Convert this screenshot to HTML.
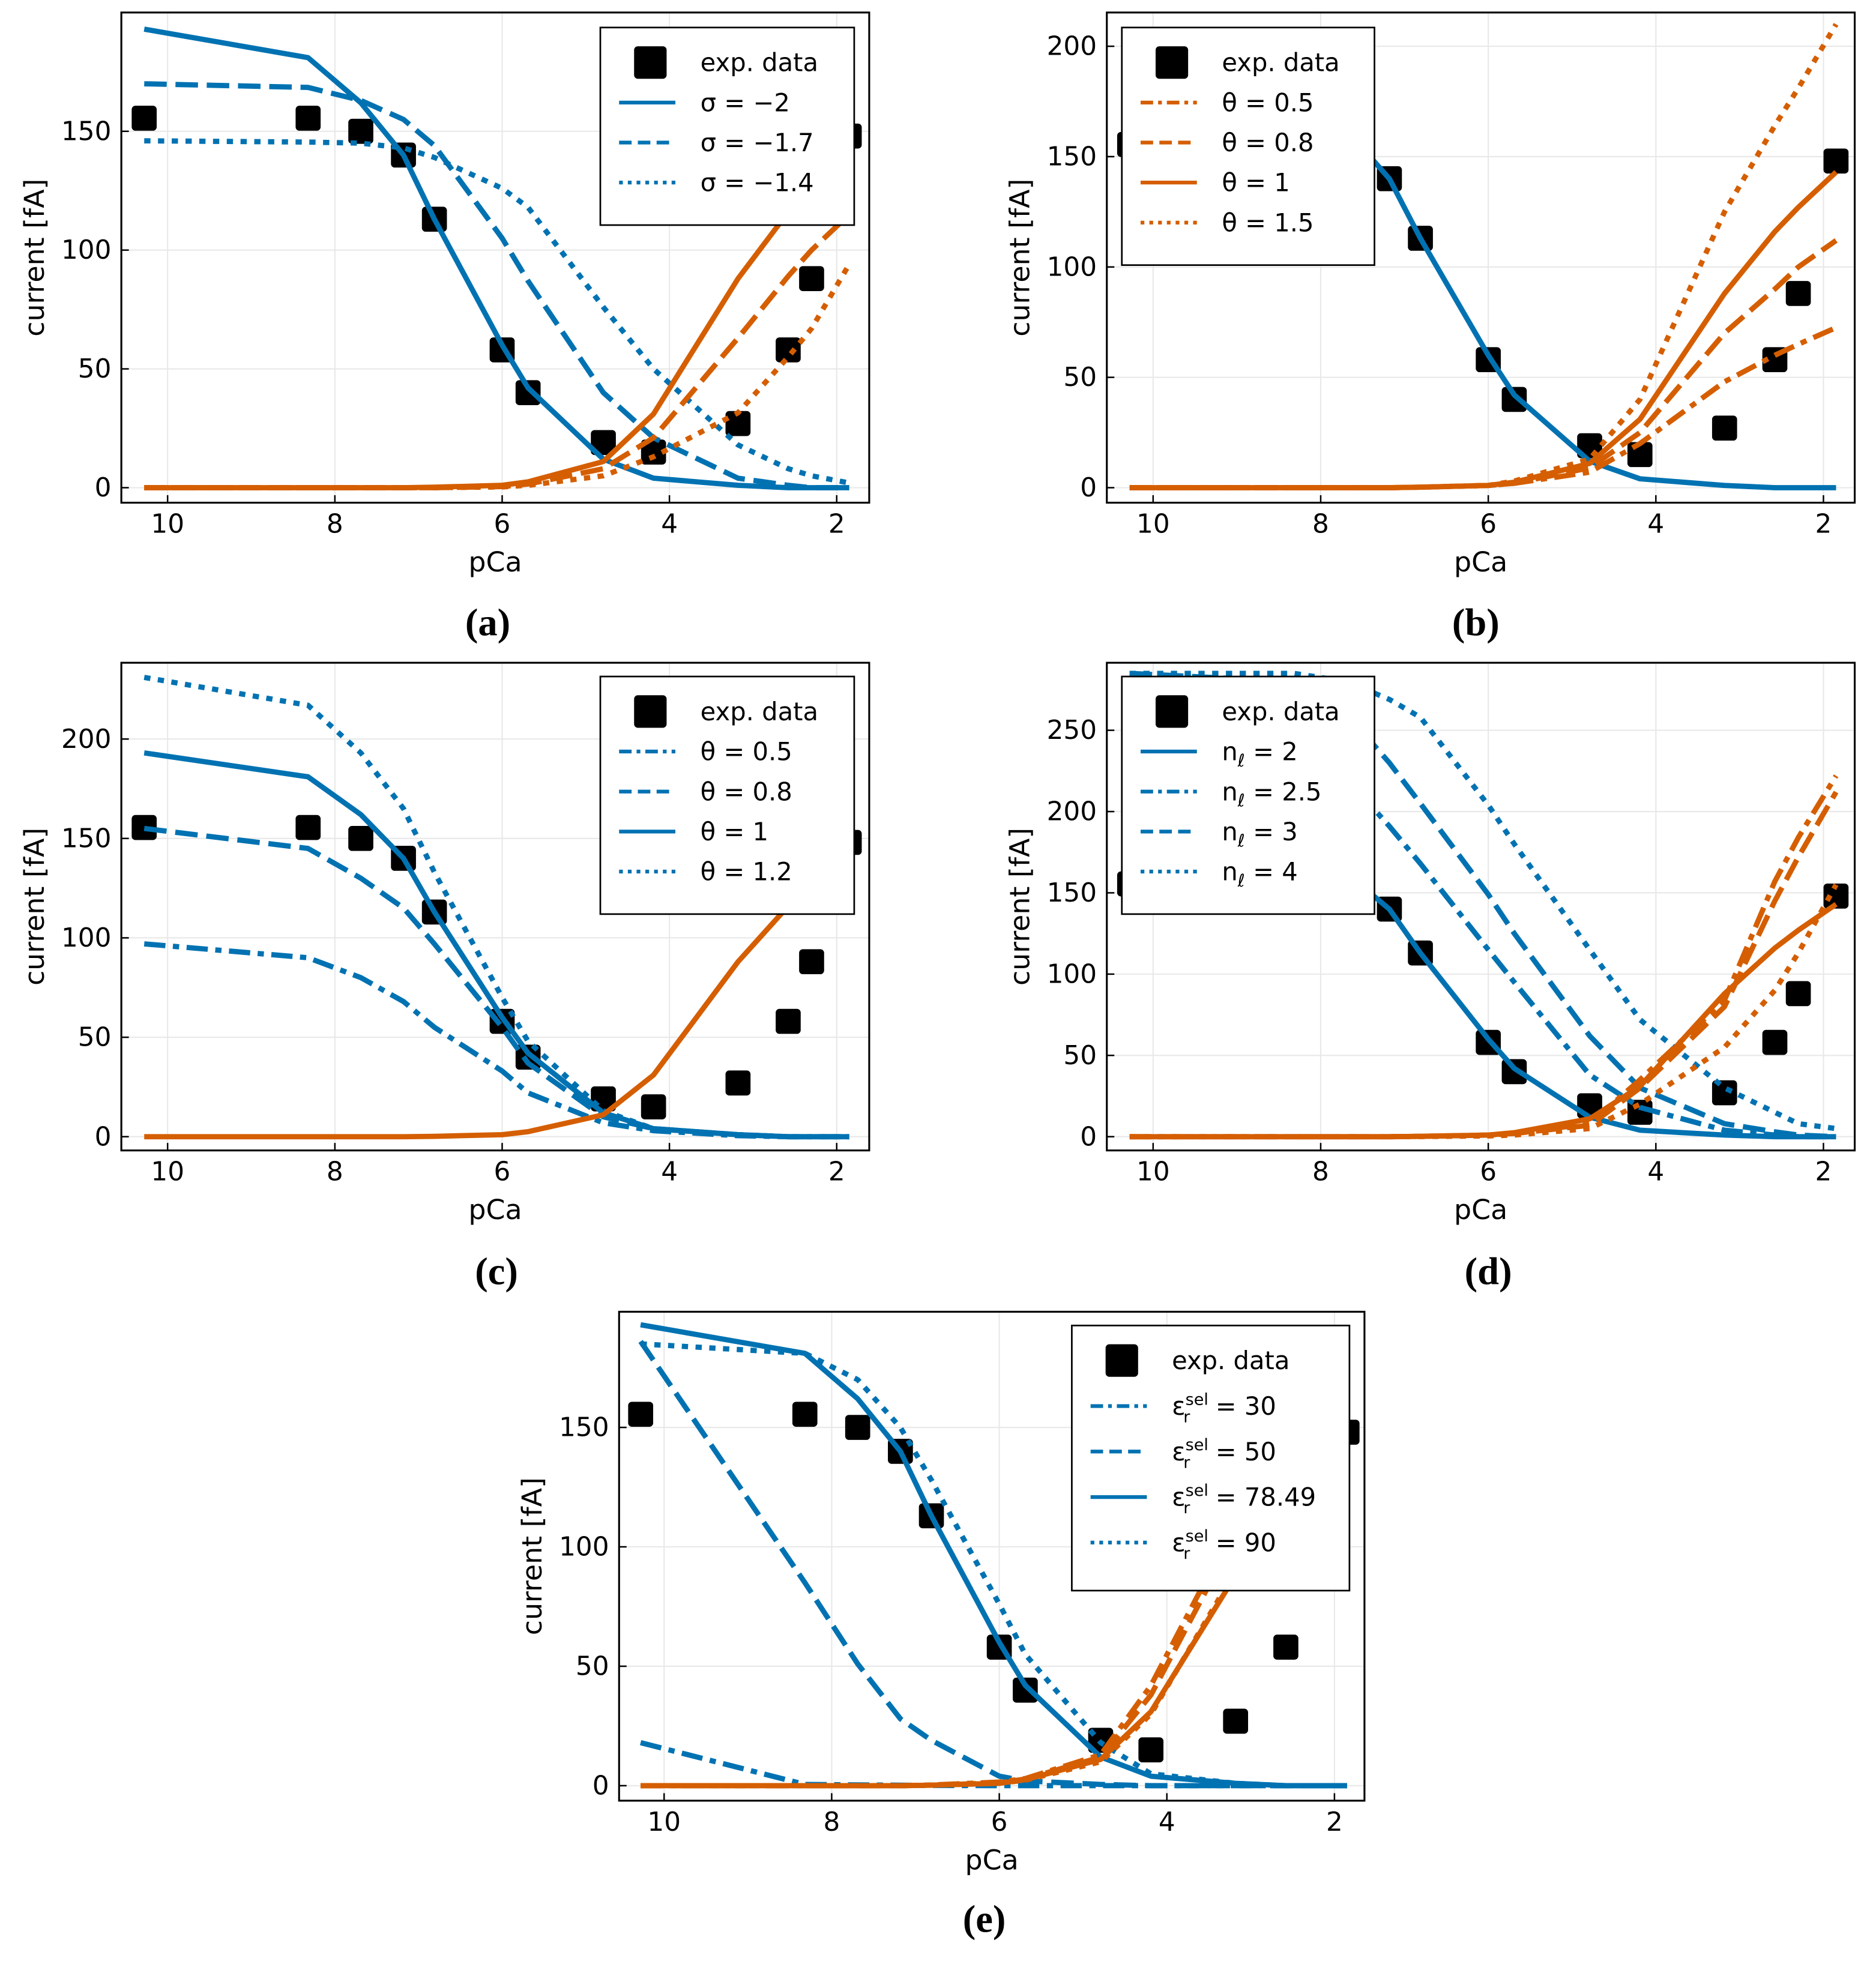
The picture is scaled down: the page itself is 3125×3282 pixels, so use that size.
<!DOCTYPE html>
<html><head><meta charset="utf-8">
<style>
html,body{margin:0;padding:0;background:#fff;}
svg{display:block;}
text{font-family:"DejaVu Sans","Liberation Sans",sans-serif;}
.cap{font-family:"Liberation Serif",serif;font-weight:bold;font-size:31px;}
</style></head>
<body>
<svg id="chart" xmlns="http://www.w3.org/2000/svg" width="3125" height="3282" viewBox="0 0 1500 1575.4">
<rect x="0" y="0" width="1500" height="1575.4" fill="#fff"/>
</svg>
<script>
const pCa = [10.28, 8.32, 7.69, 7.18, 6.81, 6.0, 5.69, 4.79, 4.19, 3.18, 2.58, 2.30, 1.85];
const expData = [155.5, 155.5, 150, 140, 113, 58, 40, 19, 15, 27, 58, 88, 148];
const xTicks = [10, 8, 6, 4, 2];

const blueBase = [193, 181, 162, 140, 113, 60, 42, 12, 4, 1, 0, 0, 0];
const orangeBase = [0, 0, 0, 0, 0.2, 1, 2.5, 11, 31, 88, 116, 127, 143];

const aBlueM17 = [170, 168.5, 163, 155, 144, 105, 87, 40, 21, 4, 1, 0, 0];
const aBlueM14 = [146, 145.5, 145, 143, 139, 126, 118, 76, 50, 18, 8, 5, 2];
const aOrangeM17 = [0, 0, 0, 0, 0, 0.5, 1.5, 8, 21, 63, 89, 100, 115];
const aOrangeM14 = [0, 0, 0, 0, 0, 0.3, 1, 5, 13, 31.5, 55, 67, 94];

const bOrange05 = [0, 0, 0, 0, 0.2, 1, 2, 7, 20, 48, 60, 65, 72.5];
const bOrange08 = [0, 0, 0, 0, 0.2, 1, 2, 9, 25, 70, 90, 100, 112];
const bOrange15 = [0, 0, 0, 0, 0.2, 1, 3, 13, 40, 125, 164, 181, 210];

const cBlue05 = [97, 90, 80, 68, 55, 33, 22, 7, 3, 0.5, 0, 0, 0];
const cBlue08 = [155, 145, 130, 115, 97, 55, 37, 10, 4, 1, 0, 0, 0];
const cBlue12 = [231, 217, 193, 165, 133, 70, 48, 13, 4, 1, 0, 0, 0];

const dBlue25 = [265, 250, 220, 191, 168, 115, 95, 38, 18, 4, 1, 0, 0];
const dBlue3 = [285, 280, 260, 230, 205, 149, 125, 62, 30, 8, 3, 1, 0];
const dBlue4 = [285, 285, 280, 269, 258, 204, 180, 115, 72, 30, 15, 8, 5];
const dOrange25 = [0, 0, 0, 0, 0.2, 1, 2, 8, 35, 84, 157, 184, 222];
const dOrange3 = [0, 0, 0, 0, 0.2, 1, 2, 7, 30, 80, 145, 172, 212];
const dOrange4 = [0, 0, 0, 0, 0.1, 0.5, 1, 5, 20, 55, 90, 113, 155];

const eBlue30 = [18, 0.5, 0.3, 0.2, 0.1, 0, 0, 0, 0, 0, 0, 0, 0];
const eBlue50 = [186, 85, 51, 28, 19, 4, 2, 0.5, 0, 0, 0, 0, 0];
const eBlue90 = [185, 181, 170, 150, 128, 76, 55, 18, 5, 1, 0, 0, 0];
const eOrange30 = [0, 0, 0, 0, 0.3, 1.5, 3, 13, 42, 110, 150, 165, 185];
const eOrange50 = [0, 0, 0, 0, 0.2, 1.2, 2.8, 12, 38, 105, 145, 160, 180];
const eOrange90 = [0, 0, 0, 0, 0.2, 1, 2.3, 10, 30, 90, 120, 130, 145];

const BLUE = '#0072b2', ORANGE = '#d55e00';
const DASH = {solid: null, dashed: '18,7', dotted: '5,6', dashdot: '17,6,5,6'};
const NS = 'http://www.w3.org/2000/svg';
const svg = document.getElementById('chart');

function mk(tag, attrs, parent) {
  const e = document.createElementNS(NS, tag);
  for (const k in attrs) e.setAttribute(k, attrs[k]);
  (parent || svg).appendChild(e);
  return e;
}

const panels = [
  {id: 'a', L: 97, R: 695, T: 10, B: 402, x10: 134, x2: 669, y0: 390, k: 1.9, yTicks: [0, 50, 100, 150],
   cap: '(a)', capX: 390, capY: 508,
   series: [
     {v: blueBase, c: BLUE, d: 'solid'}, {v: aBlueM17, c: BLUE, d: 'dashed'}, {v: aBlueM14, c: BLUE, d: 'dotted'},
     {v: orangeBase, c: ORANGE, d: 'solid'}, {v: aOrangeM17, c: ORANGE, d: 'dashed'}, {v: aOrangeM14, c: ORANGE, d: 'dotted'}],
   leg: {x: 480, y: 22, w: 203, h: 158, rows: [[BLUE, 'solid', 'σ = −2'], [BLUE, 'dashed', 'σ = −1.7'], [BLUE, 'dotted', 'σ = −1.4']]}},
  {id: 'b', L: 885, R: 1483, T: 10, B: 402, x10: 922, x2: 1458, y0: 390, k: 1.765, yTicks: [0, 50, 100, 150, 200],
   cap: '(b)', capX: 1180, capY: 508,
   series: [
     {v: blueBase, c: BLUE, d: 'solid'},
     {v: bOrange05, c: ORANGE, d: 'dashdot'}, {v: bOrange08, c: ORANGE, d: 'dashed'}, {v: orangeBase, c: ORANGE, d: 'solid'}, {v: bOrange15, c: ORANGE, d: 'dotted'}],
   leg: {x: 897, y: 22, w: 202, h: 190, rows: [[ORANGE, 'dashdot', 'θ = 0.5'], [ORANGE, 'dashed', 'θ = 0.8'], [ORANGE, 'solid', 'θ = 1'], [ORANGE, 'dotted', 'θ = 1.5']]}},
  {id: 'c', L: 97, R: 695, T: 530, B: 920, x10: 134, x2: 669, y0: 909, k: 1.59, yTicks: [0, 50, 100, 150, 200],
   cap: '(c)', capX: 397, capY: 1027,
   series: [
     {v: cBlue05, c: BLUE, d: 'dashdot'}, {v: cBlue08, c: BLUE, d: 'dashed'}, {v: blueBase, c: BLUE, d: 'solid'}, {v: cBlue12, c: BLUE, d: 'dotted'},
     {v: orangeBase, c: ORANGE, d: 'solid'}],
   leg: {x: 480, y: 541, w: 203, h: 190, rows: [[BLUE, 'dashdot', 'θ = 0.5'], [BLUE, 'dashed', 'θ = 0.8'], [BLUE, 'solid', 'θ = 1'], [BLUE, 'dotted', 'θ = 1.2']]}},
  {id: 'd', L: 885, R: 1483, T: 530, B: 920, x10: 922, x2: 1458, y0: 909, k: 1.3, yTicks: [0, 50, 100, 150, 200, 250],
   cap: '(d)', capX: 1190, capY: 1027,
   series: [
     {v: blueBase, c: BLUE, d: 'solid'}, {v: dBlue25, c: BLUE, d: 'dashdot'}, {v: dBlue3, c: BLUE, d: 'dashed'}, {v: dBlue4, c: BLUE, d: 'dotted'},
     {v: orangeBase, c: ORANGE, d: 'solid'}, {v: dOrange25, c: ORANGE, d: 'dashdot'}, {v: dOrange3, c: ORANGE, d: 'dashed'}, {v: dOrange4, c: ORANGE, d: 'dotted'}],
   leg: {x: 897, y: 541, w: 202, h: 190, rows: [[BLUE, 'solid', 'n_ℓ = 2'], [BLUE, 'dashdot', 'n_ℓ = 2.5'], [BLUE, 'dashed', 'n_ℓ = 3'], [BLUE, 'dotted', 'n_ℓ = 4']]}},
  {id: 'e', L: 495, R: 1091, T: 1049, B: 1440, x10: 531, x2: 1067, y0: 1428, k: 1.91, yTicks: [0, 50, 100, 150],
   cap: '(e)', capX: 787, capY: 1545,
   series: [
     {v: eBlue30, c: BLUE, d: 'dashdot'}, {v: eBlue50, c: BLUE, d: 'dashed'}, {v: blueBase, c: BLUE, d: 'solid'}, {v: eBlue90, c: BLUE, d: 'dotted'},
     {v: eOrange30, c: ORANGE, d: 'dashdot'}, {v: eOrange50, c: ORANGE, d: 'dashed'}, {v: orangeBase, c: ORANGE, d: 'solid'}, {v: eOrange90, c: ORANGE, d: 'dotted'}],
   leg: {x: 857, y: 1060, w: 222, h: 212, rows: [[BLUE, 'dashdot', 'eps:30'], [BLUE, 'dashed', 'eps:50'], [BLUE, 'solid', 'eps:78.49'], [BLUE, 'dotted', 'eps:90']]}}
];

panels.forEach(P => {
  const g = mk('g', {});
  
  
  const xs = p => P.x10 + (10 - p) * (P.x2 - P.x10) / 8;
  const ys = v => P.y0 - v * P.k;
  const clipId = 'clip-' + P.id;
  const cp = mk('clipPath', {id: clipId}, g);
  mk('rect', {x: P.L, y: P.T, width: P.R - P.L, height: P.B - P.T}, cp);

  // grid
  xTicks.forEach(t => {
    const l = mk('line', {x1: xs(t), x2: xs(t), y1: P.T, y2: P.B, stroke: '#e8e8e8', 'stroke-width': 1}, g);
    
    
  });
  P.yTicks.forEach(t => {
    const l = mk('line', {x1: P.L, x2: P.R, y1: ys(t), y2: ys(t), stroke: '#e8e8e8', 'stroke-width': 1}, g);
    
    
  });

  const plot = mk('g', {'clip-path': 'url(#' + clipId + ')'}, g);
  
  
  // markers
  pCa.forEach((p, i) => {
    const m = mk('rect', {x: xs(p) - 10, y: ys(expData[i]) - 10, width: 20, height: 20, rx: 3, fill: '#000'}, plot);
    
    
  });
  // lines
  P.series.forEach(s => {
    const pts = pCa.map((p, i) => xs(p).toFixed(1) + ',' + ys(s.v[i]).toFixed(1)).join(' ');
    const a = {points: pts, fill: 'none', stroke: s.c, 'stroke-width': 4.2, 'stroke-linejoin': 'round'};
    if (DASH[s.d]) a['stroke-dasharray'] = DASH[s.d];
    const pl = mk('polyline', a, plot);
    
    
  });

  // frame
  const fr = mk('rect', {x: P.L, y: P.T, width: P.R - P.L, height: P.B - P.T, fill: 'none', stroke: '#000', 'stroke-width': 1.5}, g);
  
  

  // ticks
  xTicks.forEach(t => {
    mk('line', {x1: xs(t), x2: xs(t), y1: P.B, y2: P.B - 6, stroke: '#000', 'stroke-width': 1.2}, g);
    const tx = mk('text', {x: xs(t), y: P.B + 24, 'font-size': 21, 'text-anchor': 'middle'}, g);
    tx.textContent = t;
    
    
  });
  P.yTicks.forEach(t => {
    mk('line', {x1: P.L, x2: P.L + 6, y1: ys(t), y2: ys(t), stroke: '#000', 'stroke-width': 1.2}, g);
    const tx = mk('text', {x: P.L - 8, y: ys(t) + 7, 'font-size': 21, 'text-anchor': 'end'}, g);
    tx.textContent = t;
    
    
  });
  const xl = mk('text', {x: (P.L + P.R) / 2, y: P.B + 55, 'font-size': 22, 'text-anchor': 'middle'}, g);
  xl.textContent = 'pCa';
  
  
  const cy = (P.T + P.B) / 2;
  const yl = mk('text', {x: P.L - 62, y: cy, 'font-size': 22, 'text-anchor': 'middle', transform: 'rotate(-90 ' + (P.L - 62) + ' ' + cy + ')'}, g);
  yl.textContent = 'current [fA]';
  
  

  // legend
  const L = P.leg;
  const lg = mk('g', {}, g);
  
  
  mk('rect', {x: L.x, y: L.y, width: L.w, height: L.h, fill: '#fff', stroke: '#000', 'stroke-width': 1.3}, lg);
  const step = (L.h - 30) / (L.rows.length + 1) ;
  const r0 = L.y + 28;
  mk('rect', {x: L.x + 27, y: r0 - 13, width: 26, height: 26, rx: 3, fill: '#000'}, lg);
  const et = mk('text', {x: L.x + 80, y: r0 + 7, 'font-size': 20}, lg);
  et.textContent = 'exp. data';
  
  
  L.rows.forEach((r, i) => {
    const yy = r0 + (i + 1) * step;
    const a = {x1: L.x + 15, x2: L.x + 60, y1: yy, y2: yy, stroke: r[0], 'stroke-width': 3};
    if (DASH[r[1]]) a['stroke-dasharray'] = r[1] === 'dotted' ? '3,4' : (r[1] === 'dashed' ? '10,5' : '10,4,3,4');
    mk('line', a, lg);
    const t = mk('text', {x: L.x + 80, y: yy + 7, 'font-size': 20}, lg);
    
    
    const lab = r[2];
    if (lab.startsWith('eps:')) {
      t.appendChild(document.createTextNode('ε'));
      const s1 = mk('tspan', {dy: -8, 'font-size': 13}, t); s1.textContent = 'sel';
      const s2 = mk('tspan', {dx: -20, dy: 14, 'font-size': 13}, t); s2.textContent = 'r';
      const s3 = mk('tspan', {dx: 14, dy: -6}, t); s3.textContent = ' = ' + lab.slice(4);
    } else if (lab.startsWith('n_ℓ')) {
      t.appendChild(document.createTextNode('n'));
      const s1 = mk('tspan', {dy: 5, 'font-size': 14}, t); s1.textContent = 'ℓ';
      const s2 = mk('tspan', {dy: -5}, t); s2.textContent = lab.slice(3);
    } else {
      t.textContent = lab;
    }
  });

  const cap = mk('text', {x: P.capX, y: P.capY, 'text-anchor': 'middle', class: 'cap'}, g);
  cap.textContent = P.cap;
  
  
});
</script>
</body></html>
